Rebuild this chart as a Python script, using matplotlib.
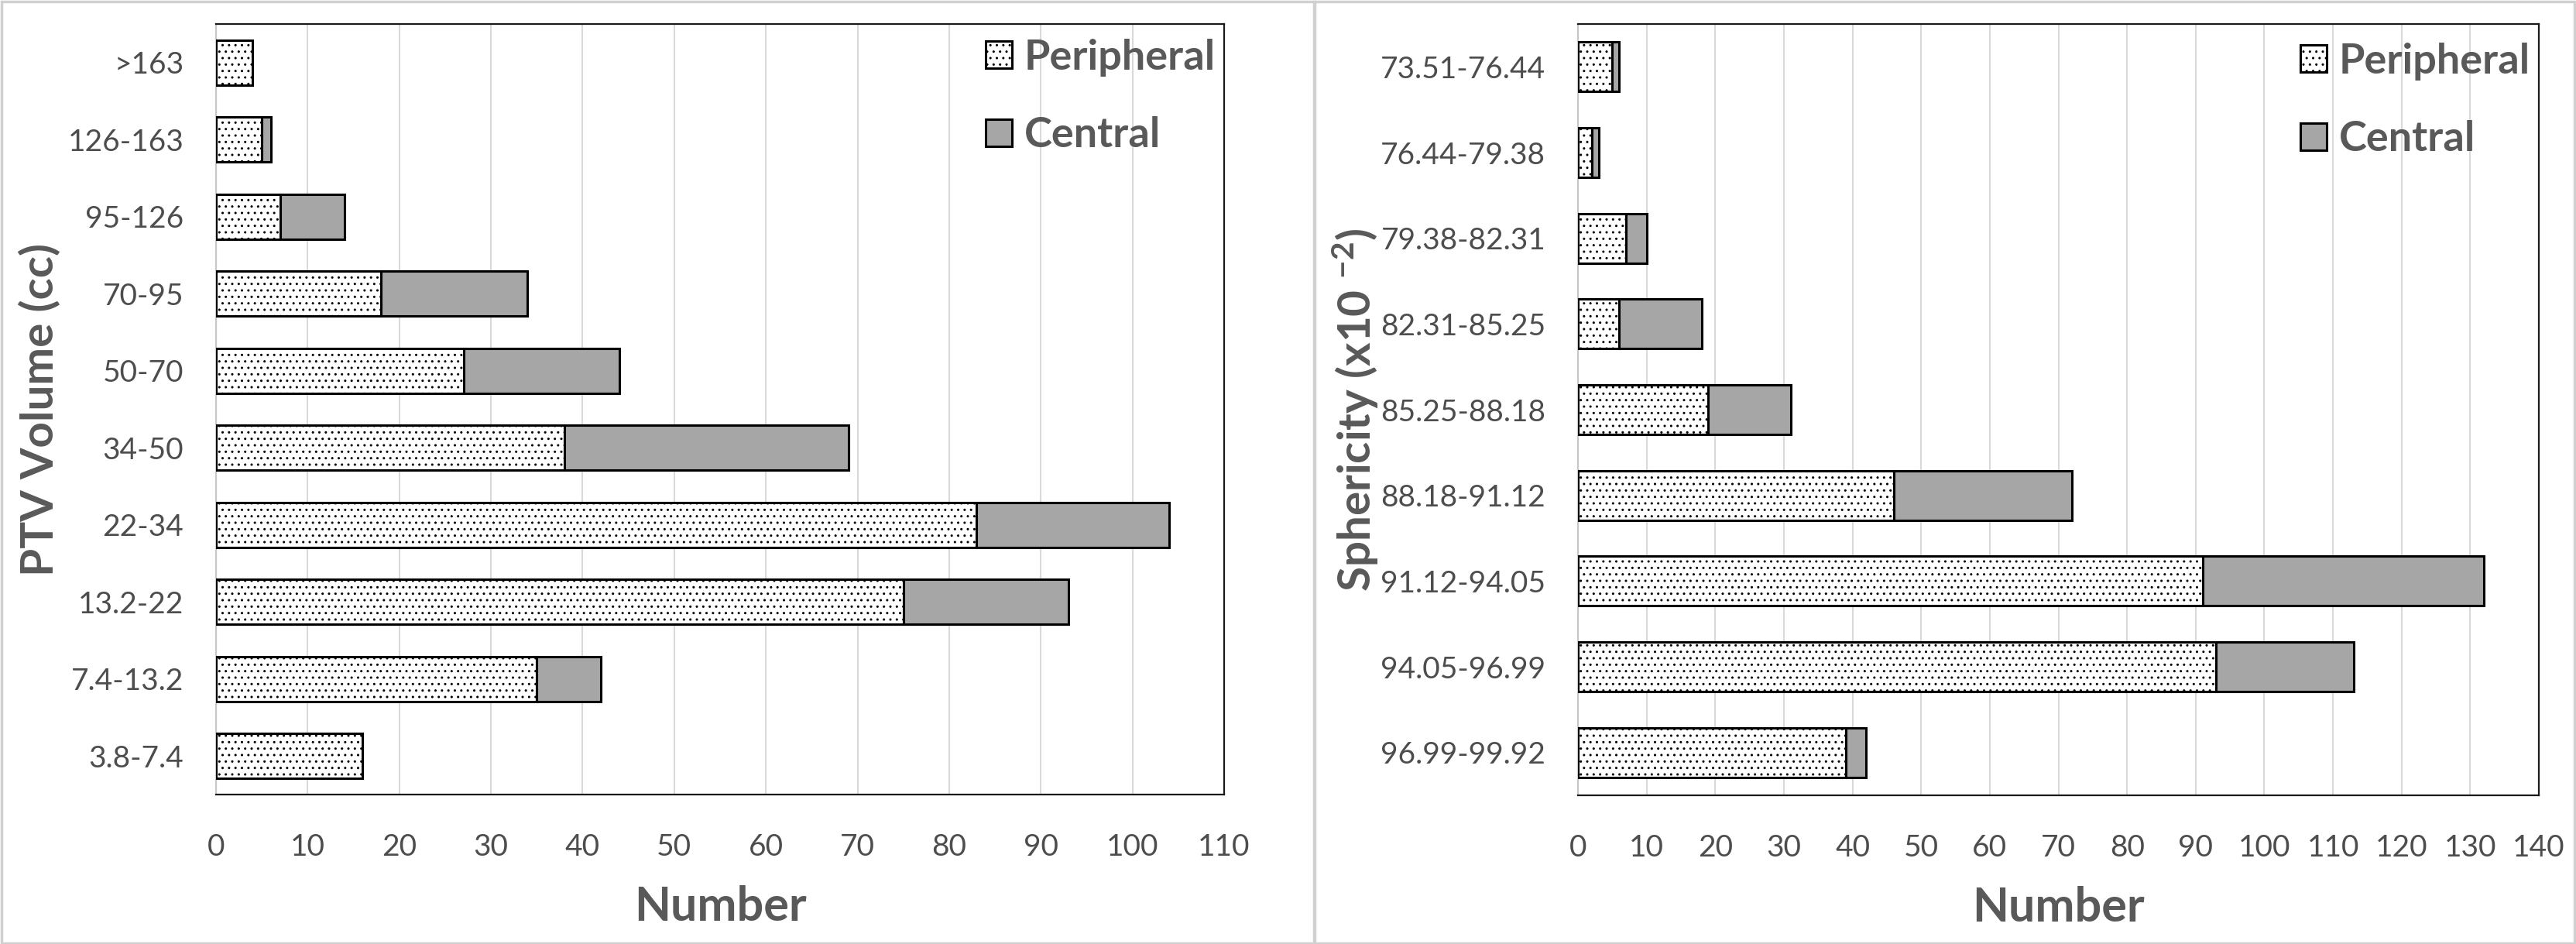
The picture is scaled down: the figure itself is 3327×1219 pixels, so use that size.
import matplotlib
matplotlib.use("Agg")
import matplotlib.pyplot as plt
from matplotlib.patches import Rectangle
import matplotlib as mpl

mpl.rcParams['hatch.linewidth'] = 1.0
mpl.rcParams['hatch.color'] = '#222222'
plt.rcParams['font.family'] = ['Lato', 'DejaVu Sans']
mpl.rcParams['mathtext.fontset'] = 'custom'
mpl.rcParams['mathtext.rm'] = 'Lato'
mpl.rcParams['mathtext.bf'] = 'Lato:bold'
mpl.rcParams['mathtext.default'] = 'bf'

# ---- data ----
ptv_categories = ["3.8-7.4", "7.4-13.2", "13.2-22", "22-34", "34-50",
                  "50-70", "70-95", "95-126", "126-163", ">163"]
ptv_peripheral = [16, 35, 75, 83, 38, 27, 18, 7, 5, 4]
ptv_central = [0, 7, 18, 21, 31, 17, 16, 7, 1, 0]
ptv_xticks = list(range(0, 111, 10))

sph_categories = ["96.99-99.92", "94.05-96.99", "91.12-94.05", "88.18-91.12",
                  "85.25-88.18", "82.31-85.25", "79.38-82.31", "76.44-79.38",
                  "73.51-76.44"]
sph_peripheral = [39, 93, 91, 46, 19, 6, 7, 2, 5]
sph_central = [3, 20, 41, 26, 12, 12, 3, 1, 1]
sph_xticks = list(range(0, 141, 10))

W, H = 3327, 1219
fig = plt.figure(figsize=(W / 100, H / 100), dpi=100)
fig.patch.set_facecolor('white')

TXT = '#595959'
TICK = '#4d4d4d'

# panel borders
fig.patches.append(Rectangle((1.5 / W, 1.5 / H), 1696 / W, (H - 3) / H, transform=fig.transFigure,
                             fill=False, edgecolor='#d0d0d0', linewidth=2.5))
fig.patches.append(Rectangle((1697 / W, 1.5 / H), (W - 1699) / W, (H - 3) / H, transform=fig.transFigure,
                             fill=False, edgecolor='#d0d0d0', linewidth=2.5))


def make_panel(rect, cats, per, cen, xticks, ylabel, ylab_x, leg_anchor):
    ax = fig.add_axes(rect)
    y = list(range(len(cats)))
    ax.barh(y, per, height=0.58, color='white', edgecolor='black', linewidth=2.2,
            hatch='..', label='Peripheral', zorder=3)
    ax.barh(y, cen, left=per, height=0.58, color='#a6a6a6', edgecolor='black',
            linewidth=2.2, label='Central', zorder=3)
    ax.set_ylim(-0.5, len(cats) - 0.5)
    ax.set_xlim(xticks[0], xticks[-1])
    ax.set_xticks(xticks)
    ax.set_yticks(y)
    ax.set_yticklabels(cats)
    ax.xaxis.grid(True, color='#d9d9d9', linewidth=1.5, zorder=0)
    ax.set_axisbelow(True)
    for side in ['top', 'right', 'bottom']:
        ax.spines[side].set_color('#1a1a1a')
        ax.spines[side].set_linewidth(1.6)
    ax.spines['left'].set_color('#c8c8c8')
    ax.spines['left'].set_linewidth(1.6)
    ax.tick_params(axis='both', length=0, labelsize=28, labelcolor=TICK)
    ax.tick_params(axis='x', pad=36)
    ax.tick_params(axis='y', pad=30)
    ax.set_xlabel('Number', fontsize=44, fontweight='bold', color=TXT, labelpad=22)
    ax.set_ylabel(ylabel, fontsize=42, fontweight='bold', color=TXT)
    ax.yaxis.label.set_verticalalignment('center')
    ax.yaxis.set_label_coords(ylab_x, 0.5)
    leg = ax.legend(loc='upper right', bbox_to_anchor=leg_anchor, frameon=False,
                    prop={'size': 39, 'weight': 'bold'}, handlelength=0.62,
                    handleheight=0.62, handletextpad=0.3, labelspacing=0.95,
                    borderaxespad=0.0, borderpad=0.2)
    for t in leg.get_texts():
        t.set_color(TXT)
    return ax


make_panel([279 / W, 1 - 1026 / H, (1581 - 279) / W, (1026 - 31) / H],
           ptv_categories, ptv_peripheral, ptv_central, ptv_xticks,
           'PTV Volume (cc)', (52 - 279) / 1302, (1.0, 0.992))

make_panel([2038 / W, 1 - 1027 / H, (3279 - 2038) / W, (1027 - 31) / H],
           sph_categories, sph_peripheral, sph_central, sph_xticks,
           r'Sphericity (x10 $^{-2}$)', (1751 - 2038) / 1241, (1.0, 0.987))

fig.savefig('out.png', dpi=100, facecolor='white')
